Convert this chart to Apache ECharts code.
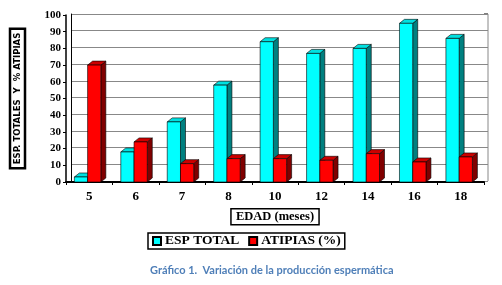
<!DOCTYPE html>
<html><head><meta charset="utf-8">
<script src="https://cdn.jsdelivr.net/npm/echarts@6/dist/echarts.min.js"></script>
<style>html,body{margin:0;padding:0;background:#fff;}#c{width:502px;height:285px;}</style>
</head><body><div id="c"></div>
<script>
var categories = ['5','6','7','8','10','12','14','16','18'];
var espTotal = [3, 18, 36, 58, 84, 77, 80, 95, 86];
var atipias = [70, 24, 11, 14, 14, 13, 17, 12, 15];
var yTicks = [0,10,20,30,40,50,60,70,80,90,100];

function makeRender(offsetFrac, front, side, top) {
  return function (params, api) {
    var idx = api.value(0), v = api.value(1);
    var p = api.coord([idx, v]);
    var p0 = api.coord([idx, 0]);
    var band = api.size([1, 0])[0];
    var w = band * 0.285;
    var x0 = p[0] + band * offsetFrac;
    var dx = 5, dy = 4;
    var y = p[1], yb = p0[1];
    return { type: 'group', children: [
      { type: 'polygon', shape: { points: [[x0 + w, y], [x0 + w + dx, y - dy], [x0 + w + dx, yb - dy], [x0 + w, yb]] },
        style: { fill: side, stroke: '#000', lineWidth: 0.6 } },
      { type: 'polygon', shape: { points: [[x0, y], [x0 + w, y], [x0 + w + dx, y - dy], [x0 + dx, y - dy]] },
        style: { fill: top, stroke: '#000', lineWidth: 0.6 } },
      { type: 'rect', shape: { x: x0, y: y, width: w, height: yb - y },
        style: { fill: front, stroke: '#000', lineWidth: 0.6 } }
    ]};
  };
}

var chart = echarts.init(document.getElementById('c'), null, { renderer: 'canvas' });
var serif = '"Liberation Serif", "Times New Roman", serif';
chart.setOption({
  animation: false,
  title: {
    text: 'Gráfico 1.  Variación de la producción espermática',
    left: 145, top: 260,
    textStyle: { fontFamily: 'Lato', fontWeight: 'bold', fontSize: 11, color: '#4f7fb8' }
  },
  legend: {
    data: ['ESP TOTAL', 'ATIPIAS (%)'],
    left: 148, top: 233,
    orient: 'horizontal',
    icon: 'rect', itemWidth: 8, itemHeight: 8, itemGap: 9,
    borderColor: '#000', borderWidth: 1.5, padding: [1, 4, 1, 4],
    textStyle: { fontFamily: serif, fontWeight: 'bold', fontSize: 13.5, color: '#000', padding: [0, 0, 0, -1] }
  },
  grid: [
    { left: 71, right: 14, top: 14, bottom: 104 },
    { left: 66, right: 18, top: 15, bottom: 103 }
  ],
  xAxis: [
    { gridIndex: 0, type: 'category', data: categories, show: false },
    { gridIndex: 1, type: 'category', data: categories,
      axisLine: { lineStyle: { color: '#000', width: 2 } },
      axisTick: { show: true, length: 3, inside: false, lineStyle: { color: '#000', width: 1 } },
      axisLabel: { fontFamily: serif, fontWeight: 'bold', fontSize: 13, color: '#000', margin: 8 },
      name: 'EDAD (meses)', nameLocation: 'middle', nameGap: 23,
      nameTextStyle: { fontFamily: serif, fontWeight: 'bold', fontSize: 12.5, color: '#000',
        borderColor: '#000', borderWidth: 1.5, padding: [2, 5, 1, 5] }
    }
  ],
  yAxis: [
    { gridIndex: 0, type: 'value', min: 0, max: 100, interval: 10,
      axisLine: { show: true, lineStyle: { color: '#000', width: 1 } },
      axisTick: { show: false }, axisLabel: { show: false },
      splitLine: { show: true, lineStyle: { color: '#888', width: 1 } }
    },
    { gridIndex: 1, type: 'value', min: 0, max: 100, interval: 10,
      axisLine: { show: true, lineStyle: { color: '#000', width: 1.5 } },
      axisTick: { show: true, length: 3, lineStyle: { color: '#000' } },
      splitLine: { show: false },
      axisLabel: { fontFamily: serif, fontWeight: 'bold', fontSize: 11, color: '#000', margin: 5,
        formatter: function (v) { return yTicks.indexOf(v) >= 0 ? String(v) : ''; } },
      name: 'ESP. TOTALES  Y  % ATIPIAS', nameLocation: 'middle', nameGap: 41, nameRotate: 90,
      nameTextStyle: { fontFamily: '"DejaVu Sans Condensed", "Liberation Sans", Arial, sans-serif', fontWeight: 'bold',
        fontSize: 9.5, color: '#000', borderColor: '#000', borderWidth: 2.5, padding: [3, 4, 2, 4] }
    }
  ],
  graphic: [
    { type: 'line', shape: { x1: 484, y1: 14, x2: 488, y2: 14 }, style: { stroke: '#000', lineWidth: 1 } },
    { type: 'line', shape: { x1: 488, y1: 14, x2: 488, y2: 181 }, style: { stroke: '#888', lineWidth: 1 } }
  ],
  series: [
    { name: 'ESP TOTAL', type: 'custom', xAxisIndex: 1, yAxisIndex: 1,
      itemStyle: { color: '#00ffff', borderColor: '#000', borderWidth: 1 },
      data: espTotal.map(function (v, i) { return [i, v]; }),
      renderItem: makeRender(-0.32, '#00ffff', '#008080', '#00e0e0') },
    { name: 'ATIPIAS (%)', type: 'custom', xAxisIndex: 1, yAxisIndex: 1,
      itemStyle: { color: '#ff0000', borderColor: '#000', borderWidth: 1 },
      data: atipias.map(function (v, i) { return [i, v]; }),
      renderItem: makeRender(-0.035, '#ff0000', '#800000', '#cc0000') }
  ]
});
</script></body></html>
